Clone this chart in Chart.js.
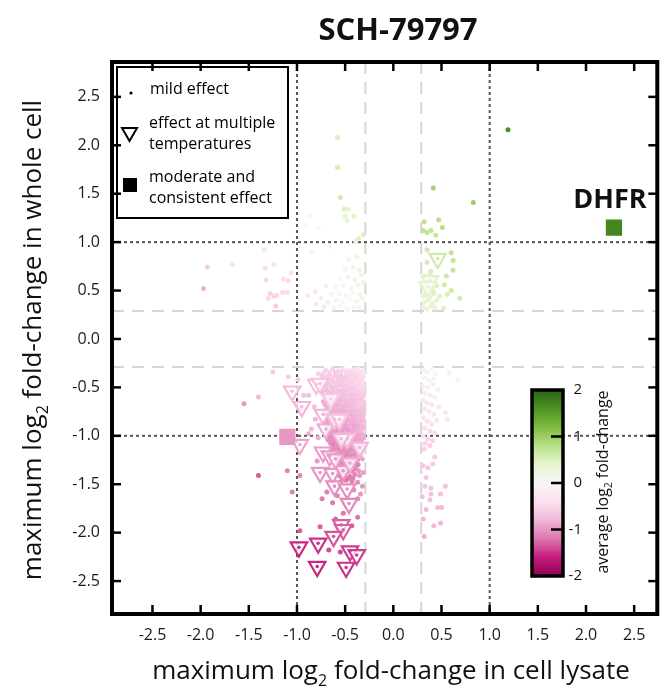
<!DOCTYPE html>
<html>
<head>
<meta charset="utf-8">
<script src="https://cdn.jsdelivr.net/npm/chart.js@4/dist/chart.umd.min.js"></script>
<style>
  html, body { margin: 0; padding: 0; background: #fff; }
</style>
</head>
<body>
<canvas id="chart" width="669" height="698"></canvas>
<script>
// each point: [lysate log2 FC, whole-cell log2 FC, average log2 FC]
const pinkCore = [
  [-0.70,-0.32,-0.5],[-0.63,-0.31,-0.55],[-0.57,-0.33,-0.5],[-0.52,-0.31,-0.45],[-0.47,-0.33,-0.5],[-0.42,-0.32,-0.4],[-0.37,-0.31,-0.35],[-0.32,-0.33,-0.35],
  [-0.74,-0.38,-0.6],[-0.66,-0.36,-0.6],[-0.60,-0.38,-0.65],[-0.55,-0.37,-0.6],[-0.50,-0.39,-0.55],[-0.45,-0.36,-0.55],[-0.40,-0.38,-0.5],[-0.35,-0.37,-0.45],[-0.31,-0.39,-0.4],
  [-0.71,-0.43,-0.65],[-0.64,-0.41,-0.65],[-0.58,-0.44,-0.6],[-0.53,-0.42,-0.65],[-0.48,-0.41,-0.6],[-0.43,-0.44,-0.55],[-0.38,-0.42,-0.55],[-0.33,-0.43,-0.5],
  [-0.73,-0.48,-0.7],[-0.67,-0.46,-0.65],[-0.61,-0.49,-0.7],[-0.56,-0.47,-0.65],[-0.51,-0.48,-0.65],[-0.46,-0.46,-0.6],[-0.41,-0.49,-0.6],[-0.36,-0.47,-0.55],[-0.31,-0.48,-0.5],
  [-0.69,-0.53,-0.7],[-0.63,-0.51,-0.7],[-0.58,-0.54,-0.7],[-0.53,-0.52,-0.65],[-0.48,-0.54,-0.65],[-0.44,-0.51,-0.6],[-0.39,-0.53,-0.6],[-0.34,-0.52,-0.55],
  [-0.72,-0.58,-0.8],[-0.66,-0.56,-0.75],[-0.60,-0.58,-0.8],[-0.55,-0.57,-0.75],[-0.50,-0.59,-0.75],[-0.45,-0.56,-0.7],[-0.41,-0.58,-0.7],[-0.36,-0.57,-0.65],[-0.31,-0.59,-0.6],
  [-0.70,-0.63,-0.8],[-0.64,-0.61,-0.8],[-0.58,-0.63,-0.8],[-0.53,-0.62,-0.75],[-0.48,-0.64,-0.75],[-0.43,-0.61,-0.75],[-0.38,-0.63,-0.7],[-0.33,-0.62,-0.65],
  [-0.71,-0.68,-0.85],[-0.66,-0.66,-0.85],[-0.61,-0.68,-0.85],[-0.56,-0.67,-0.8],[-0.51,-0.69,-0.8],[-0.46,-0.66,-0.75],[-0.41,-0.68,-0.75],[-0.36,-0.67,-0.7],[-0.31,-0.69,-0.65],
  [-0.69,-0.73,-0.85],[-0.63,-0.71,-0.9],[-0.58,-0.73,-0.85],[-0.53,-0.72,-0.85],[-0.48,-0.74,-0.8],[-0.43,-0.71,-0.8],[-0.38,-0.73,-0.75],[-0.33,-0.72,-0.7],
  [-0.70,-0.78,-0.9],[-0.65,-0.76,-0.9],[-0.60,-0.78,-0.9],[-0.55,-0.77,-0.85],[-0.50,-0.79,-0.85],[-0.45,-0.76,-0.85],[-0.40,-0.78,-0.8],[-0.35,-0.77,-0.75],[-0.31,-0.79,-0.7],
  [-0.68,-0.83,-0.95],[-0.62,-0.81,-0.95],[-0.57,-0.83,-0.9],[-0.52,-0.82,-0.9],[-0.47,-0.84,-0.9],[-0.42,-0.81,-0.85],[-0.37,-0.83,-0.8],[-0.32,-0.82,-0.75],
  [-0.69,-0.88,-0.95],[-0.64,-0.86,-1.0],[-0.59,-0.88,-0.95],[-0.54,-0.87,-0.95],[-0.49,-0.89,-0.95],[-0.44,-0.86,-0.9],[-0.39,-0.88,-0.85],[-0.34,-0.87,-0.8],
  [-0.67,-0.93,-1.0],[-0.61,-0.91,-1.0],[-0.56,-0.93,-1.0],[-0.51,-0.92,-0.95],[-0.46,-0.94,-0.95],[-0.41,-0.91,-0.9],[-0.36,-0.93,-0.85],[-0.31,-0.92,-0.8],
  [-0.68,-0.98,-1.05],[-0.63,-0.96,-1.05],[-0.58,-0.98,-1.0],[-0.53,-0.97,-1.0],[-0.48,-0.99,-1.0],[-0.43,-0.96,-0.95],[-0.38,-0.98,-0.9],[-0.33,-0.97,-0.85],
  [-0.66,-1.03,-1.05],[-0.61,-1.01,-1.05],[-0.56,-1.03,-1.05],[-0.51,-1.02,-1.0],[-0.46,-1.04,-1.0],[-0.41,-1.01,-0.95],[-0.36,-1.03,-0.95],[-0.31,-1.02,-0.9],
  [-0.65,-1.08,-1.05],[-0.60,-1.06,-1.05],[-0.55,-1.08,-1.0],[-0.50,-1.07,-1.0],[-0.45,-1.09,-0.95],[-0.40,-1.06,-0.95],[-0.35,-1.08,-0.9],
  [-0.64,-1.13,-1.05],[-0.58,-1.11,-1.05],[-0.53,-1.13,-1.05],[-0.48,-1.12,-1.0],[-0.43,-1.14,-1.0],[-0.38,-1.11,-0.95],[-0.33,-1.13,-0.9],
  [-0.62,-1.18,-1.1],[-0.57,-1.16,-1.1],[-0.52,-1.18,-1.05],[-0.47,-1.17,-1.05],[-0.42,-1.19,-1.0],[-0.37,-1.16,-1.0],
  [-0.60,-1.23,-1.1],[-0.55,-1.21,-1.1],[-0.50,-1.23,-1.1],[-0.45,-1.22,-1.05],[-0.40,-1.24,-1.05],[-0.35,-1.21,-1.0],
  [-0.58,-1.28,-1.15],[-0.53,-1.26,-1.15],[-0.48,-1.28,-1.1],[-0.43,-1.27,-1.1],[-0.38,-1.29,-1.05],
  [-0.59,-1.33,-1.15],[-0.54,-1.31,-1.15],[-0.49,-1.33,-1.15],[-0.44,-1.32,-1.1],[-0.39,-1.34,-1.1],
  [-0.56,-1.41,-1.2],[-0.50,-1.39,-1.15],[-0.45,-1.42,-1.15],[-0.40,-1.40,-1.1],
  [-0.55,-1.48,-1.2],[-0.49,-1.46,-1.2],[-0.43,-1.47,-1.15]
];
const pinkCoreFill = [
  [-0.72,-0.345,-0.55],[-0.66,-0.345,-0.55],[-0.60,-0.345,-0.6],[-0.545,-0.345,-0.55],[-0.49,-0.345,-0.5],[-0.44,-0.345,-0.5],[-0.39,-0.345,-0.45],[-0.34,-0.345,-0.4],[-0.30,-0.345,-0.35],
  [-0.69,-0.395,-0.65],[-0.63,-0.395,-0.6],[-0.575,-0.395,-0.6],[-0.525,-0.395,-0.6],[-0.475,-0.395,-0.55],[-0.425,-0.395,-0.5],[-0.375,-0.395,-0.5],[-0.325,-0.395,-0.45],
  [-0.745,-0.445,-0.7],[-0.68,-0.445,-0.65],[-0.62,-0.445,-0.65],[-0.565,-0.445,-0.65],[-0.515,-0.445,-0.6],[-0.465,-0.445,-0.55],[-0.415,-0.445,-0.55],[-0.365,-0.445,-0.5],[-0.315,-0.445,-0.45],
  [-0.70,-0.495,-0.7],[-0.645,-0.495,-0.7],[-0.59,-0.495,-0.65],[-0.535,-0.495,-0.65],[-0.485,-0.495,-0.6],[-0.435,-0.495,-0.6],[-0.385,-0.495,-0.55],[-0.335,-0.495,-0.5],
  [-0.735,-0.545,-0.75],[-0.675,-0.545,-0.75],[-0.62,-0.545,-0.7],[-0.565,-0.545,-0.7],[-0.515,-0.545,-0.7],[-0.465,-0.545,-0.65],[-0.415,-0.545,-0.6],[-0.365,-0.545,-0.6],[-0.315,-0.545,-0.55],
  [-0.69,-0.595,-0.8],[-0.63,-0.595,-0.8],[-0.575,-0.595,-0.75],[-0.525,-0.595,-0.75],[-0.475,-0.595,-0.7],[-0.425,-0.595,-0.7],[-0.375,-0.595,-0.65],[-0.33,-0.595,-0.6],
  [-0.725,-0.645,-0.85],[-0.67,-0.645,-0.8],[-0.61,-0.645,-0.8],[-0.555,-0.645,-0.8],[-0.505,-0.645,-0.75],[-0.455,-0.645,-0.75],[-0.405,-0.645,-0.7],[-0.355,-0.645,-0.65],[-0.31,-0.645,-0.6],
  [-0.685,-0.695,-0.85],[-0.635,-0.695,-0.85],[-0.585,-0.695,-0.85],[-0.535,-0.695,-0.8],[-0.485,-0.695,-0.8],[-0.435,-0.695,-0.75],[-0.385,-0.695,-0.7],[-0.335,-0.695,-0.65],
  [-0.72,-0.745,-0.9],[-0.665,-0.745,-0.9],[-0.61,-0.745,-0.85],[-0.555,-0.745,-0.85],[-0.505,-0.745,-0.85],[-0.455,-0.745,-0.8],[-0.405,-0.745,-0.8],[-0.355,-0.745,-0.75],[-0.31,-0.745,-0.7],
  [-0.685,-0.795,-0.9],[-0.63,-0.795,-0.9],[-0.58,-0.795,-0.9],[-0.53,-0.795,-0.85],[-0.48,-0.795,-0.85],[-0.43,-0.795,-0.85],[-0.38,-0.795,-0.8],[-0.33,-0.795,-0.75],
  [-0.705,-0.845,-0.95],[-0.655,-0.845,-0.95],[-0.60,-0.845,-0.95],[-0.545,-0.845,-0.9],[-0.495,-0.845,-0.9],[-0.445,-0.845,-0.85],[-0.395,-0.845,-0.85],[-0.345,-0.845,-0.8],[-0.305,-0.845,-0.75],
  [-0.665,-0.895,-1.0],[-0.615,-0.895,-0.95],[-0.565,-0.895,-0.95],[-0.515,-0.895,-0.95],[-0.465,-0.895,-0.9],[-0.415,-0.895,-0.9],[-0.365,-0.895,-0.85],[-0.32,-0.895,-0.8],
  [-0.69,-0.945,-1.0],[-0.64,-0.945,-1.0],[-0.585,-0.945,-1.0],[-0.535,-0.945,-0.95],[-0.485,-0.945,-0.95],[-0.435,-0.945,-0.9],[-0.385,-0.945,-0.85],[-0.335,-0.945,-0.8],
  [-0.655,-0.995,-1.05],[-0.605,-0.995,-1.05],[-0.555,-0.995,-1.0],[-0.505,-0.995,-1.0],[-0.455,-0.995,-0.95],[-0.405,-0.995,-0.95],[-0.355,-0.995,-0.9],[-0.31,-0.995,-0.85],
  [-0.675,-1.045,-1.05],[-0.625,-1.045,-1.05],[-0.575,-1.045,-1.05],[-0.525,-1.045,-1.0],[-0.475,-1.045,-1.0],[-0.425,-1.045,-0.95],[-0.375,-1.045,-0.95],[-0.33,-1.045,-0.9],
  [-0.625,-1.095,-1.1],[-0.575,-1.095,-1.05],[-0.525,-1.095,-1.05],[-0.475,-1.095,-1.0],[-0.425,-1.095,-1.0],[-0.375,-1.095,-0.95],[-0.325,-1.095,-0.9],
  [-0.61,-1.145,-1.1],[-0.555,-1.145,-1.1],[-0.505,-1.145,-1.05],[-0.455,-1.145,-1.05],[-0.405,-1.145,-1.0],[-0.355,-1.145,-0.95],
  [-0.595,-1.195,-1.1],[-0.545,-1.195,-1.1],[-0.495,-1.195,-1.1],[-0.445,-1.195,-1.05],[-0.395,-1.195,-1.05],[-0.345,-1.195,-1.0],
  [-0.57,-1.245,-1.15],[-0.52,-1.245,-1.15],[-0.47,-1.245,-1.1],[-0.42,-1.245,-1.1],[-0.37,-1.245,-1.05],
  [-0.56,-1.30,-1.15],[-0.51,-1.30,-1.15],[-0.46,-1.30,-1.15],[-0.41,-1.30,-1.1],[-0.365,-1.30,-1.1],
  [-0.575,-1.365,-1.2],[-0.525,-1.365,-1.15],[-0.475,-1.365,-1.15],[-0.425,-1.365,-1.1],
  [-0.53,-1.44,-1.2],[-0.475,-1.44,-1.2],[-0.42,-1.44,-1.15]
];
const pinkOuter = [
  [-1.25,-0.34,-0.6],[-1.09,-0.39,-0.55],[-1.55,-0.67,-1.0],[-1.40,-0.60,-0.8],[-1.40,-1.41,-1.3],[-1.10,-1.36,-1.1],
  [-0.97,-1.41,-1.1],[-1.05,-1.58,-1.15],[-0.74,-1.65,-1.15],[-0.63,-1.69,-1.2],[-0.37,-1.65,-1.1],[-0.34,-1.60,-1.0],
  [-0.37,-1.84,-1.2],[-0.97,-1.98,-1.3],[-0.76,-1.94,-1.3],[-0.67,-2.18,-1.4],[-0.55,-2.20,-1.4],[-0.43,-1.93,-1.3],
  [-0.81,-0.83,-0.8],[-0.85,-0.93,-0.8],[-0.88,-0.98,-0.85],[-0.88,-0.58,-0.7],[-0.93,-0.58,-0.7],[-0.86,-0.43,-0.6],
  [-0.99,-0.42,-0.6],[-0.96,-0.72,-0.75],[-0.36,-1.36,-1.0],[-0.31,-1.38,-0.95],[-0.32,-1.52,-1.0],[-0.35,-1.41,-1.0],
  [-0.37,-1.48,-1.05],[-0.36,-1.21,-0.9],[-0.32,-1.24,-0.9],[-0.78,-0.36,-0.55],[-0.82,-0.70,-0.7],[-0.78,-1.02,-0.85],
  [-0.79,-1.26,-1.0],[-0.69,-1.58,-1.15],[-0.58,-1.62,-1.1],[-0.52,-1.80,-1.2],[-0.60,-1.86,-1.25],[-0.41,-1.56,-1.05]
];
const rightPale = [
  [0.31,-0.32,-0.05],[0.35,-0.34,-0.05],[0.40,-0.31,0.0],[0.44,-0.36,-0.05],[0.58,-0.35,-0.1],[0.67,-0.42,-0.1],
  [0.32,-0.40,-0.1],[0.37,-0.43,-0.1],[0.42,-0.41,-0.1],[0.31,-0.48,-0.15],[0.36,-0.50,-0.15],[0.41,-0.47,-0.15],
  [0.46,-0.52,-0.2],[0.33,-0.56,-0.2],[0.38,-0.58,-0.2],[0.43,-0.60,-0.2],[0.31,-0.63,-0.25],[0.35,-0.66,-0.25],
  [0.40,-0.68,-0.3],[0.47,-0.70,-0.3],[0.54,-0.76,-0.3],[0.56,-0.83,-0.35],[0.32,-0.72,-0.3],[0.37,-0.75,-0.3],
  [0.42,-0.78,-0.35],[0.31,-0.81,-0.35],[0.35,-0.85,-0.4],[0.40,-0.88,-0.4],[0.45,-0.84,-0.35],[0.33,-0.92,-0.4],
  [0.38,-0.95,-0.45],[0.43,-0.97,-0.45],[0.31,-1.00,-0.45],[0.36,-1.03,-0.5],[0.41,-1.05,-0.5],[0.33,-1.08,-0.5],
  [0.38,-1.10,-0.55],[0.32,-1.14,-0.55],[0.43,-1.22,-0.6],[0.31,-1.31,-0.6],[0.36,-1.33,-0.6],[0.41,-1.29,-0.6],
  [0.34,-1.43,-0.65],[0.33,-1.52,-0.65],[0.39,-1.54,-0.7],[0.54,-1.52,-0.7],[0.30,-1.63,-0.7],[0.39,-1.60,-0.7],
  [0.49,-1.60,-0.7],[0.38,-1.66,-0.7],[0.34,-1.76,-0.75],[0.46,-1.74,-0.75],[0.50,-1.74,-0.75],[0.31,-1.86,-0.8],
  [0.42,-1.93,-0.8],[0.49,-1.90,-0.8],[0.32,-2.04,-0.85]
];
const paleTop = [
  [-0.62,0.32,-0.1],[-0.55,0.34,0.0],[-0.48,0.31,0.05],[-0.41,0.33,0.05],[-0.35,0.32,0.1],[-0.68,0.38,-0.15],
  [-0.59,0.40,-0.05],[-0.52,0.38,0.0],[-0.45,0.41,0.05],[-0.38,0.39,0.1],[-0.32,0.42,0.15],[-0.64,0.46,-0.1],
  [-0.56,0.47,0.0],[-0.49,0.45,0.05],[-0.42,0.48,0.1],[-0.35,0.46,0.15],[-0.60,0.54,-0.05],[-0.52,0.55,0.05],
  [-0.44,0.53,0.1],[-0.37,0.56,0.15],[-0.31,0.58,0.2],[-0.55,0.62,0.05],[-0.47,0.64,0.1],[-0.40,0.61,0.15],
  [-0.33,0.66,0.2],[-0.50,0.72,0.1],[-0.42,0.74,0.15],[-0.35,0.71,0.2],[-0.46,0.82,0.15],[-0.38,0.85,0.2],
  [-0.72,0.33,-0.25],[-0.80,0.36,-0.3],[-0.75,0.42,-0.2],[-0.70,0.55,-0.2],[-0.85,0.90,-0.1],[-0.66,0.95,0.0],
  [-0.78,1.15,0.0],[-0.91,1.18,0.0],[-0.87,1.27,0.05],[-0.89,0.45,-0.3],[-0.81,0.49,-0.3]
];
const leftPink = [
  [-1.93,0.74,-0.6],[-1.97,0.52,-0.85],[-1.67,0.77,-0.4],[-1.34,0.92,-0.35],[-1.33,0.73,-0.45],[-1.24,0.77,-0.4],
  [-1.32,0.61,-0.5],[-1.14,0.62,-0.45],[-1.09,0.60,-0.45],[-1.06,0.68,-0.4],[-1.28,0.47,-0.55],[-1.24,0.44,-0.5],
  [-1.21,0.45,-0.5],[-1.15,0.48,-0.45],[-1.10,0.48,-0.45],[-1.30,0.42,-0.5],[-1.22,0.34,-0.6]
];
const greenDots = [
  [1.19,2.16,1.6],[0.415,1.56,0.95],[0.83,1.41,1.0],[0.32,1.21,0.75],[0.47,1.23,0.8],[0.51,1.15,0.8],
  [0.31,1.12,0.75],[0.35,1.10,0.75],[0.39,1.12,0.7],[0.44,1.07,0.7],[0.35,0.92,0.6],[0.60,0.89,0.75],
  [0.62,0.81,0.7],[0.35,0.79,0.55],[0.39,0.70,0.5],[0.55,0.65,0.65],[0.62,0.71,0.7],[0.53,0.56,0.6],
  [0.60,0.50,0.6],[0.56,0.46,0.55],[0.69,0.42,0.6],[0.52,0.32,0.45],
  [-0.58,2.08,0.5],[-0.58,1.77,0.55],[-0.55,1.46,0.6],[-0.51,1.34,0.5],[-0.47,1.34,0.45],[-0.41,1.27,0.45],
  [-0.48,1.22,0.4],[-0.50,1.27,0.4],[-0.31,1.08,0.5],[-0.36,1.04,0.45],[-0.39,1.01,0.4]
];
const greenPale = [
  [0.31,0.33,0.35],[0.35,0.31,0.35],[0.39,0.34,0.4],[0.43,0.32,0.35],[0.32,0.38,0.35],[0.36,0.40,0.4],
  [0.41,0.37,0.4],[0.45,0.40,0.4],[0.31,0.44,0.4],[0.34,0.46,0.4],[0.38,0.43,0.4],[0.42,0.47,0.45],
  [0.33,0.51,0.4],[0.37,0.53,0.45],[0.41,0.50,0.45],[0.31,0.57,0.4],[0.35,0.59,0.45],[0.40,0.62,0.45],
  [0.45,0.55,0.45],[0.48,0.44,0.45],[0.33,0.65,0.45],[0.38,0.66,0.5]
];
// effect at multiple temperatures
const multiTemp = [
  [-1.05,-0.54,-0.75],[-0.95,-0.70,-0.8],[-0.80,-0.47,-0.7],[-0.76,-0.46,-0.7],[-0.73,-0.78,-0.8],[-0.70,-0.93,-0.85],
  [-0.97,-1.09,-0.9],[-0.73,-1.17,-0.95],[-0.66,-1.21,-0.95],[-0.76,-1.38,-1.0],[-0.63,-1.39,-1.0],[-0.52,-1.36,-1.0],
  [-0.45,-1.28,-0.9],[-0.61,-1.52,-1.05],[-0.48,-1.55,-1.05],[-0.46,-1.70,-1.1],[-0.54,-1.92,-1.3],[-0.52,-1.97,-1.3],
  [-0.62,-2.04,-1.35],[-0.98,-2.15,-1.55],[-0.78,-2.11,-1.5],[-0.45,-2.19,-1.45],[-0.38,-2.23,-1.45],[-0.79,-2.35,-1.55],
  [-0.49,-2.36,-1.5],[-0.35,-1.12,-0.8],[-0.65,-0.62,-0.6],[-0.61,-0.83,-0.75],[-0.48,-1.03,-0.8],[-0.54,-1.03,-0.8],
  [-0.56,-0.83,-0.7],[-0.60,-1.24,-0.95],
  [0.46,0.83,0.6],[0.38,0.60,0.45],[0.36,0.54,0.4]
];
// moderate and consistent effect
const consistent = [[-1.10,-1.01,-1.0],[2.29,1.15,1.7]];
const consistentLabels = ['', 'DHFR'];

const xTitle = [['maximum log', false], ['2', true], [' fold-change in cell lysate', false]];
const yTitle = [['maximum log', false], ['2', true], [' fold-change in whole cell', false]];
const cbTitle = [['average log', false], ['2', true], [' fold-change', false]];
const cbTicks = [2, 1, 0, -1, -2];
const refDotted = [-1, 1];
const refDashed = [-0.29, 0.29];

const piyg = ['#8e0152','#c51b7d','#de77ae','#f1b6da','#fde0ef','#f7f7f7','#e6f5d0','#b8e186','#7fbc41','#4d9221','#276419'];
function hexRgb(h){ return [parseInt(h.slice(1,3),16), parseInt(h.slice(3,5),16), parseInt(h.slice(5,7),16)]; }
function colorFor(c){
  const t = (Math.max(-2, Math.min(2, c)) + 2) / 4 * (piyg.length - 1);
  const i = Math.min(piyg.length - 2, Math.floor(t));
  const f = t - i;
  const a = hexRgb(piyg[i]), b = hexRgb(piyg[i+1]);
  return 'rgb(' + a.map((v, k) => Math.round(v + (b[k] - v) * f)).join(',') + ')';
}
const toPts = arr => arr.map(d => ({x: d[0], y: d[1], c: d[2]}));
const ptColor = ctx => ctx.raw ? colorFor(ctx.raw.c) : '#000';

const FONT = '"Open Sans", "DejaVu Sans", sans-serif';

function drawSub(ctx, parts, x, y, size){
  const big = size + 'px ' + FONT, small = Math.round(size * 0.62) + 'px ' + FONT;
  let total = 0;
  parts.forEach(p => { ctx.font = p[1] ? small : big; total += ctx.measureText(p[0]).width; });
  let cx = x - total / 2;
  ctx.textAlign = 'left';
  ctx.textBaseline = 'alphabetic';
  parts.forEach(p => {
    ctx.font = p[1] ? small : big;
    ctx.fillText(p[0], cx, p[1] ? y + size * 0.25 : y);
    cx += ctx.measureText(p[0]).width;
  });
}

const decor = {
  id: 'decor',
  beforeDatasetsDraw(chart){
    const {ctx, chartArea: a, scales: {x, y}} = chart;
    ctx.save();
    ctx.lineWidth = 2;
    ctx.strokeStyle = '#d6d6d6';
    ctx.setLineDash([12, 8]);
    refDashed.forEach(v => {
      ctx.beginPath(); ctx.moveTo(x.getPixelForValue(v), a.top); ctx.lineTo(x.getPixelForValue(v), a.bottom); ctx.stroke();
      ctx.beginPath(); ctx.moveTo(a.left, y.getPixelForValue(v)); ctx.lineTo(a.right, y.getPixelForValue(v)); ctx.stroke();
    });
    ctx.strokeStyle = '#555';
    ctx.setLineDash([3, 3]);
    refDotted.forEach(v => {
      ctx.beginPath(); ctx.moveTo(x.getPixelForValue(v), a.top); ctx.lineTo(x.getPixelForValue(v), a.bottom); ctx.stroke();
      ctx.beginPath(); ctx.moveTo(a.left, y.getPixelForValue(v)); ctx.lineTo(a.right, y.getPixelForValue(v)); ctx.stroke();
    });
    ctx.restore();
  },
  afterDatasetsDraw(chart){
    const {ctx, chartArea: a, scales: {x, y}} = chart;
    ctx.save();
    ctx.strokeStyle = '#000';
    ctx.lineWidth = 2.5;
    const tl = 9;
    x.ticks.forEach(t => {
      const px = x.getPixelForValue(t.value);
      ctx.beginPath(); ctx.moveTo(px, a.bottom); ctx.lineTo(px, a.bottom - tl); ctx.stroke();
      ctx.beginPath(); ctx.moveTo(px, a.top); ctx.lineTo(px, a.top + tl); ctx.stroke();
    });
    y.ticks.forEach(t => {
      const py = y.getPixelForValue(t.value);
      ctx.beginPath(); ctx.moveTo(a.left, py); ctx.lineTo(a.left + tl, py); ctx.stroke();
      ctx.beginPath(); ctx.moveTo(a.right, py); ctx.lineTo(a.right - tl, py); ctx.stroke();
    });
    ctx.lineWidth = 4;
    ctx.strokeRect(a.left, a.top, a.right - a.left, a.bottom - a.top);
    ctx.restore();
  },
  afterDraw(chart){
    const {ctx} = chart;
    ctx.save();
    ctx.fillStyle = '#111';
    // title
    ctx.font = 'bold 31px ' + FONT;
    ctx.textAlign = 'center';
    ctx.textBaseline = 'alphabetic';
    ctx.fillText('SCH-79797', 398, 40);
    // point labels
    const meta = chart.getDatasetMeta(0);
    consistentLabels.forEach((lab, i) => {
      if (!lab) return;
      const el = meta.data[i];
      ctx.font = 'bold 27px ' + FONT;
      ctx.textAlign = 'center';
      ctx.fillText(lab, el.x - 4, el.y - 20);
    });
    // axis titles
    drawSub(ctx, xTitle, 391, 679, 26);
    ctx.save();
    ctx.translate(41, 340);
    ctx.rotate(-Math.PI / 2);
    drawSub(ctx, yTitle, 0, 0, 26);
    ctx.restore();
    // legend box
    ctx.lineWidth = 2;
    ctx.strokeStyle = '#000';
    ctx.strokeRect(117, 67, 171, 151);
    ctx.fillStyle = '#000';
    ctx.beginPath(); ctx.arc(131, 93, 1.6, 0, Math.PI * 2); ctx.fill();
    ctx.beginPath();
    ctx.moveTo(122, 128); ctx.lineTo(137, 128); ctx.lineTo(129.5, 141); ctx.closePath();
    ctx.lineWidth = 2; ctx.stroke();
    ctx.fillRect(123, 178, 14, 14);
    ctx.font = '16px ' + FONT;
    ctx.textAlign = 'left';
    ctx.textBaseline = 'middle';
    ctx.fillText('mild effect', 150, 89);
    ctx.fillText('effect at multiple', 149, 123);
    ctx.fillText('temperatures', 149, 144);
    ctx.fillText('moderate and', 149, 177);
    ctx.fillText('consistent effect', 149, 198);
    // colour bar
    const cb = {l: 532, r: 563, t: 390, b: 576};
    const g = ctx.createLinearGradient(0, cb.b, 0, cb.t);
    piyg.forEach((c, i) => g.addColorStop(i / (piyg.length - 1), c));
    ctx.fillStyle = g;
    ctx.fillRect(cb.l, cb.t, cb.r - cb.l, cb.b - cb.t);
    ctx.lineWidth = 3.5;
    ctx.strokeRect(cb.l, cb.t, cb.r - cb.l, cb.b - cb.t);
    ctx.lineWidth = 2.5;
    ctx.fillStyle = '#111';
    ctx.font = '15px ' + FONT;
    ctx.textAlign = 'right';
    ctx.textBaseline = 'middle';
    cbTicks.forEach(v => {
      const py = cb.b - (v + 2) / 4 * (cb.b - cb.t);
      if (v > -2 && v < 2) { ctx.beginPath(); ctx.moveTo(cb.r, py); ctx.lineTo(cb.r - 12, py); ctx.stroke(); }
      ctx.fillText(String(v), 582, py);
    });
    ctx.save();
    ctx.translate(608, 482);
    ctx.rotate(-Math.PI / 2);
    drawSub(ctx, cbTitle, 0, 0, 16);
    ctx.restore();
    ctx.restore();
  }
};

const tickFont = {family: FONT, size: 16};
new Chart(document.getElementById('chart'), {
  type: 'scatter',
  data: {
    datasets: [
      {label: 'moderate and consistent effect', data: toPts(consistent), order: 1,
       pointStyle: 'rect', pointRadius: 11.5, pointBorderWidth: 0, pointBackgroundColor: ptColor},
      {label: 'centres', data: toPts(multiTemp), order: 2,
       pointRadius: 1.8, pointBorderWidth: 0, pointBackgroundColor: ptColor},
      {label: 'effect at multiple temperatures', data: toPts(multiTemp), order: 3,
       pointStyle: 'triangle', pointRotation: 180, pointRadius: 9.5, pointBorderWidth: 2.2,
       pointBorderColor: ptColor, pointBackgroundColor: 'rgba(255,255,255,0.75)'},
      {label: 'mild effect', data: toPts([].concat(pinkCore, pinkCoreFill, pinkOuter, rightPale, paleTop, leftPink, greenDots, greenPale)), order: 4,
       pointRadius: 2.5, pointBorderWidth: 0, pointBackgroundColor: ptColor}
    ]
  },
  options: {
    responsive: false,
    animation: false,
    devicePixelRatio: 1,
    layout: {padding: {top: 62, right: 6, left: 0, bottom: 0}},
    plugins: {legend: {display: false}, tooltip: {enabled: false}},
    scales: {
      x: {
        type: 'linear', min: -2.92, max: 2.74,
        grid: {display: false, drawTicks: false}, border: {display: false},
        ticks: {stepSize: 0.5, includeBounds: false, autoSkip: false, maxRotation: 0, padding: 12,
                color: '#1a1a1a', font: tickFont, callback: v => v.toFixed(1)},
        afterFit: s => { s.height = 84; }
      },
      y: {
        type: 'linear', min: -2.84, max: 2.86,
        grid: {display: false, drawTicks: false}, border: {display: false},
        ticks: {stepSize: 0.5, includeBounds: false, autoSkip: false, padding: 12,
                color: '#1a1a1a', font: tickFont, callback: v => v.toFixed(1)},
        afterFit: s => { s.width = 112; }
      }
    }
  },
  plugins: [decor]
});
</script>
</body>
</html>
